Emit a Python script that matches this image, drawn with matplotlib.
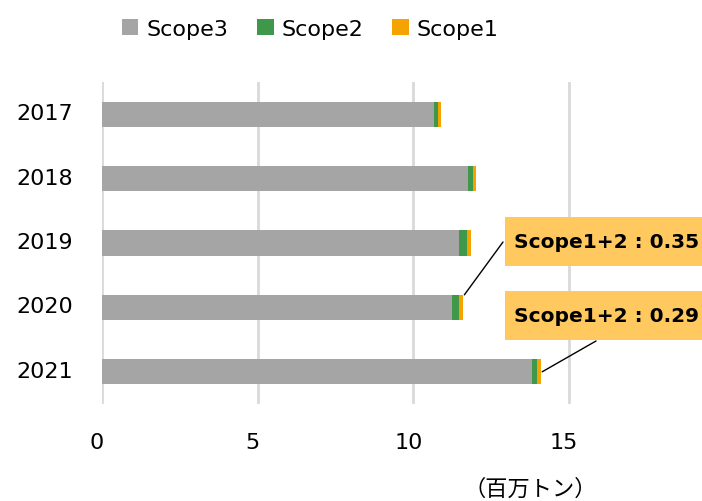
import matplotlib
matplotlib.use("Agg")
import matplotlib.pyplot as plt
from matplotlib.patches import Rectangle
from matplotlib.transforms import ScaledTranslation

plt.rcParams['font.family'] = ['DejaVu Sans', 'Noto Sans CJK JP']

years = ["2017", "2018", "2019", "2020", "2021"]
scope3 = [10.66, 11.75, 11.46, 11.24, 13.80]
scope2 = [0.13, 0.17, 0.27, 0.23, 0.16]
scope1 = [0.10, 0.10, 0.13, 0.12, 0.13]
xticks = [0, 5, 10, 15]
callouts = {"2020": "Scope1+2 : 0.35", "2021": "Scope1+2 : 0.29"}

C3, C2, C1 = "#A5A5A5", "#3F974A", "#F5A300"
BOX = "#FFC95F"

W, H = 702, 502
fig = plt.figure(figsize=(W / 100, H / 100), dpi=100)


def fx(x):
    return x / W


def fy(y):
    return 1 - y / H


ax = fig.add_axes([fx(102), fy(405), fx(702) - fx(102), fy(83) - fy(405)])

ypos = list(range(len(years)))
bar_h = 0.39
left2 = [a for a in scope3]
left1 = [a + b for a, b in zip(scope3, scope2)]
ax.barh(ypos, scope3, height=bar_h, color=C3, label="Scope3", zorder=3)
ax.barh(ypos, scope2, left=left2, height=bar_h, color=C2, label="Scope2", zorder=3)
ax.barh(ypos, scope1, left=left1, height=bar_h, color=C1, label="Scope1", zorder=3)

ax.set_xlim(0, 600 / 31.13)
ax.set_ylim(len(years) - 0.5, -0.5)
ax.set_yticks(ypos)
ax.set_yticklabels(years, fontsize=16)
ax.set_xticks(xticks)
ax.set_xticklabels([str(t) for t in xticks], fontsize=16)
ax.tick_params(axis='y', length=0, pad=21)
ax.tick_params(axis='x', length=0, pad=20)
ax.grid(axis='x', color="#D9D9D9", lw=2, zorder=0)
for s in ax.spines.values():
    s.set_visible(False)

# small offsets on tick labels
dx = ScaledTranslation(-5 / 100, 0, fig.dpi_scale_trans)
for lbl in ax.get_xticklabels():
    lbl.set_transform(lbl.get_transform() + dx)
dy = ScaledTranslation(0, 3 / 100, fig.dpi_scale_trans)
for lbl in ax.get_yticklabels():
    lbl.set_transform(lbl.get_transform() + dy)

# legend row
leg = ax.legend(loc="upper center", bbox_to_anchor=(fx(310), fy(0)),
                bbox_transform=fig.transFigure, ncol=3, frameon=False,
                fontsize=16, handlelength=0.75, handleheight=0.75,
                handletextpad=0.35, columnspacing=1.3)

# call-out boxes
boxes = {"2020": (505, 218, 197, 49, (503, 243), "top"),
         "2021": (505, 292, 197, 49, (596, 342), "mid")}
for yr, label in callouts.items():
    bx, by, bw, bh, start, anchor = boxes[yr]
    i = years.index(yr)
    fig.add_artist(Rectangle((fx(bx), fy(by + bh)), fx(bw), bh / H,
                             transform=fig.transFigure, facecolor=BOX,
                             edgecolor="none", zorder=5))
    fig.text(fx(bx + bw / 2 + 3), fy(by + bh / 2), label, fontsize=14.5,
             fontweight="bold", ha="center", va="center", zorder=6)
    total = scope3[i] + scope2[i] + scope1[i]
    yy = i - bar_h / 2 if anchor == "top" else i
    ax.annotate("", xy=(total + 0.05, yy), xycoords="data",
                xytext=(fx(start[0]), fy(start[1])), textcoords="figure fraction",
                arrowprops=dict(arrowstyle="-", color="black", lw=1,
                                shrinkA=0, shrinkB=0), annotation_clip=False)

fig.text(fx(530), fy(489), "（百万トン）", fontsize=16,
         family=["Noto Sans CJK JP", "DejaVu Sans"], ha="center", va="center")

fig.savefig("out.png", dpi=100)
